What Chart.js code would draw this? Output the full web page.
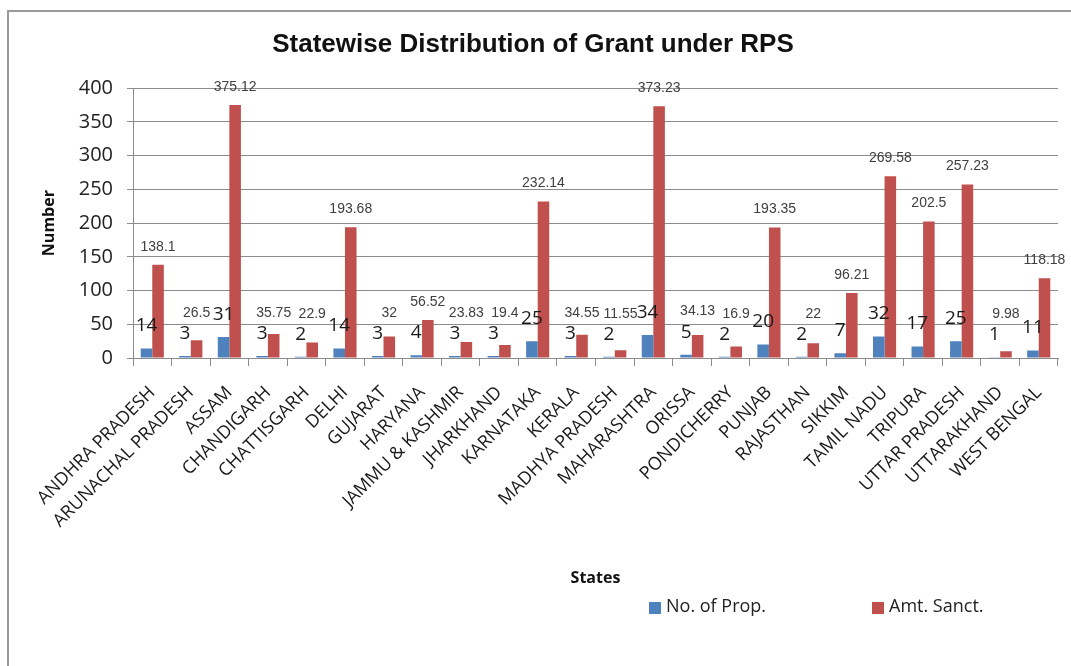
<!DOCTYPE html>
<html>
<head>
<meta charset="utf-8">
<script src="https://cdn.jsdelivr.net/npm/chart.js@4"></script>
<style>
  body { margin: 0; background: #fff; overflow: hidden; }
  #wrap { position: relative; width: 1071px; height: 666px; }
  #frame { position: absolute; left: 7px; top: 10px; width: 1100px; height: 700px; border: 2px solid #9a9a9a; box-sizing: border-box; }
  canvas { position: absolute; left: 0; top: 0; }
</style>
</head>
<body>
<div id="wrap">
  <div id="frame"></div>
  <canvas id="grantChart" width="1071" height="666"></canvas>
</div>
<script>
// 데이터
const states = [
  "ANDHRA PRADESH", "ARUNACHAL PRADESH", "ASSAM", "CHANDIGARH", "CHATTISGARH",
  "DELHI", "GUJARAT", "HARYANA", "JAMMU & KASHMIR", "JHARKHAND", "KARNATAKA",
  "KERALA", "MADHYA PRADESH", "MAHARASHTRA", "ORISSA", "PONDICHERRY", "PUNJAB",
  "RAJASTHAN", "SIKKIM", "TAMIL NADU", "TRIPURA", "UTTAR PRADESH", "UTTARAKHAND",
  "WEST BENGAL",
];
const noOfProp = [14, 3, 31, 3, 2, 14, 3, 4, 3, 3, 25, 3, 2, 34, 5, 2, 20, 2, 7, 32, 17, 25, 1, 11];
const amtSanct = [138.1, 26.5, 375.12, 35.75, 22.9, 193.68, 32, 56.52, 23.83, 19.4, 232.14, 34.55,
  11.55, 373.23, 34.13, 16.9, 193.35, 22, 96.21, 269.58, 202.5, 257.23, 9.98, 118.18];
const yTicks = [0, 50, 100, 150, 200, 250, 300, 350, 400];

const BLUE = "#4F81BD";
const RED = "#C0504D";
const GRID = "#8c8c8c";

// 막대 위 값 표시
const valueLabels = {
  id: "valueLabels",
  afterDatasetsDraw(chart) {
    const ctx = chart.ctx;
    const blue = chart.getDatasetMeta(0).data;
    const red = chart.getDatasetMeta(1).data;
    ctx.save();
    ctx.textAlign = "center";
    ctx.textBaseline = "bottom";
    blue.forEach((bar, i) => {
      ctx.font = "19px 'Open Sans'";
      ctx.fillStyle = "#1a1a1a";
      ctx.fillText(String(noOfProp[i]), bar.x, bar.y - 13);
    });
    red.forEach((bar, i) => {
      const blueTop = blue[i].y - 13 - 15;
      const y = Math.min(bar.y - 11, blueTop - 8);
      ctx.font = "14px 'Liberation Sans'";
      ctx.fillStyle = "#404040";
      ctx.fillText(String(amtSanct[i]), bar.x, y);
    });
    ctx.restore();
  },
};

// 범례 (오른쪽 아래)
const bottomLegend = {
  id: "bottomLegend",
  afterDraw(chart) {
    const ctx = chart.ctx;
    const spots = [649, 872];
    ctx.save();
    ctx.font = "18px 'Open Sans'";
    ctx.textBaseline = "middle";
    ctx.textAlign = "left";
    chart.data.datasets.forEach((ds, i) => {
      ctx.fillStyle = ds.backgroundColor;
      ctx.fillRect(spots[i], 602, 12, 12);
      ctx.fillStyle = "#222";
      ctx.fillText(ds.label, spots[i] + 17, 607);
    });
    ctx.restore();
  },
};

try {
  const ctx = document.getElementById("grantChart").getContext("2d");
  new Chart(ctx, {
    type: "bar",
    data: {
      labels: states,
      datasets: [
        {
          label: "No. of Prop.",
          data: noOfProp,
          backgroundColor: BLUE,
          borderWidth: 0,
          categoryPercentage: 0.6,
          barPercentage: 1.0,
        },
        {
          label: "Amt. Sanct.",
          data: amtSanct,
          backgroundColor: RED,
          borderWidth: 0,
          categoryPercentage: 0.6,
          barPercentage: 1.0,
        },
      ],
    },
    options: {
      responsive: false,
      animation: false,
      layout: { padding: { left: 8, right: 13, top: 0, bottom: 0 } },
      plugins: {
        legend: { display: false },
        tooltip: { enabled: false },
        title: {
          display: true,
          text: "Statewise Distribution of Grant under RPS",
          color: "#111",
          font: { family: "'Liberation Sans'", size: 26, weight: "bold" },
          padding: { top: 29, bottom: 28 },
        },
      },
      scales: {
        x: {
          afterFit(scale) { scale.height = 308; },
          grid: {
            display: true,
            drawOnChartArea: false,
            drawTicks: true,
            tickLength: 8,
            color: GRID,
          },
          border: { display: true, color: GRID },
          ticks: {
            autoSkip: false,
            maxRotation: 45,
            minRotation: 45,
            padding: 16,
            color: "#1a1a1a",
            font: { family: "'Open Sans'", size: 18 },
          },
          title: {
            display: true,
            text: "States",
            color: "#111",
            font: { family: "'Open Sans'", size: 16, weight: "bold" },
            padding: { top: 0, bottom: 78 },
          },
        },
        y: {
          min: 0,
          max: 400,
          afterFit(scale) { scale.width = 125; },
          afterBuildTicks(scale) { scale.ticks = yTicks.map((v) => ({ value: v })); },
          grid: { color: GRID, tickLength: 6 },
          border: { display: true, color: GRID },
          ticks: {
            padding: 14,
            color: "#222",
            font: { family: "'Open Sans'", size: 20 },
          },
          title: {
            display: true,
            text: "Number",
            color: "#111",
            font: { family: "'Open Sans'", size: 16, weight: "bold" },
            padding: { top: 32, bottom: 0 },
          },
        },
      },
    },
    plugins: [valueLabels, bottomLegend],
  });
} catch (e) {
  console.error("차트 생성 중 오류 발생:", e);
}
</script>
</body>
</html>
